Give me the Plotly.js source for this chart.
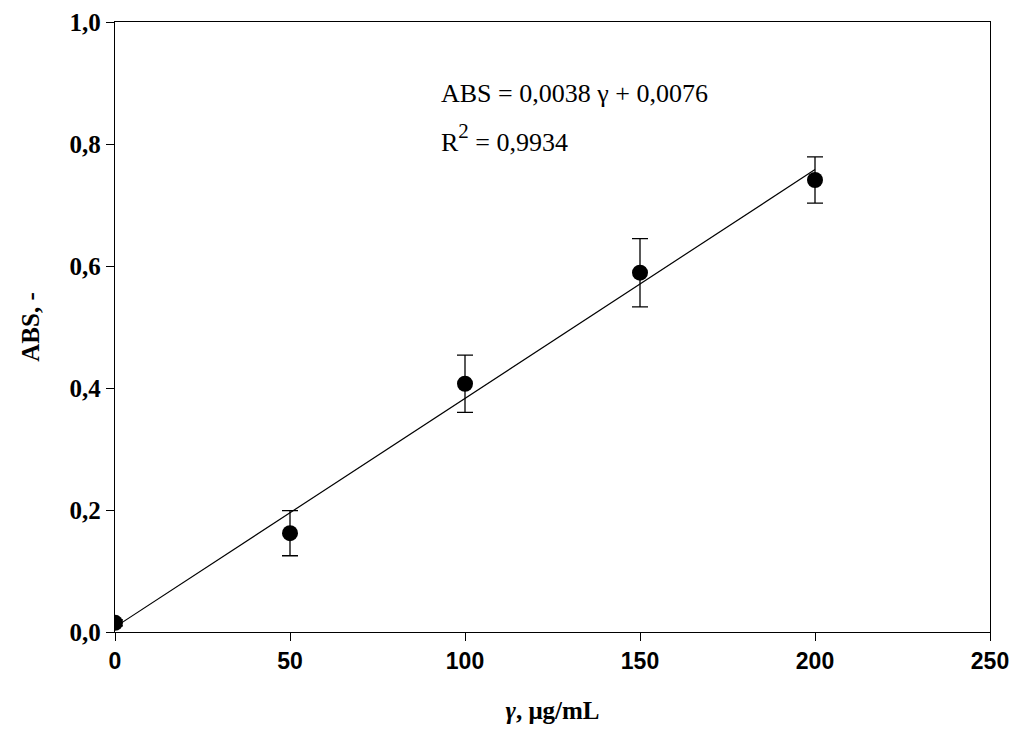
<!DOCTYPE html>
<html>
<head>
<meta charset="utf-8">
<script src="https://cdn.plot.ly/plotly-3.0.1.min.js"></script>
<style>body{margin:0}#chart{width:1018px;height:742px}</style>
</head>
<body>
<div id="chart"></div>
<script>
const conc = [0, 50, 100, 150, 200]
const absVals = [0.015, 0.162, 0.407, 0.589, 0.741]
const absErr = [0.005, 0.037, 0.047, 0.056, 0.038]
const fitX = [0, 200]
const fitY = [0.008, 0.758]

const serif = "Liberation Serif, Times New Roman, serif"

const data = [
    {
        x: fitX, y: fitY, mode: "lines", type: "scatter",
        line: {color: "black", width: 1.2}, hoverinfo: "skip"
    },
    {
        x: conc, y: absVals, mode: "markers", type: "scatter",
        marker: {color: "black", size: 16},
        error_y: {type: "data", array: absErr, visible: true, color: "black", thickness: 1.3, width: 8}
    }
]

const layout = {
    width: 1018, height: 742,
    margin: {l: 115, r: 28, t: 22, b: 110},
    showlegend: false,
    separators: ",.",
    paper_bgcolor: "white", plot_bgcolor: "white",
    xaxis: {
        range: [0, 250], tickvals: [0, 50, 100, 150, 200, 250],
        ticks: "outside", ticklen: 8, tickcolor: "black",
        showgrid: false, zeroline: false,
        showline: true, mirror: true, linecolor: "black", linewidth: 1.3,
        tickfont: {family: "Liberation Sans, Arial, sans-serif", size: 23, color: "black", weight: "bold"},
        title: {text: "<i>γ</i>, μg/mL", standoff: 28, font: {family: serif, size: 25, color: "black", weight: "bold"}}
    },
    yaxis: {
        range: [0, 1], tickvals: [0, 0.2, 0.4, 0.6, 0.8, 1.0], tickformat: ".1f",
        ticks: "outside", ticklen: 8, tickcolor: "black",
        showgrid: false, zeroline: false,
        showline: true, mirror: true, linecolor: "black", linewidth: 1.3,
        tickfont: {family: serif, size: 25, color: "black", weight: "bold"},
        title: {text: "ABS, -", standoff: 22, font: {family: serif, size: 25, color: "black", weight: "bold"}}
    },
    annotations: [
        {xref: "paper", yref: "paper", x: 0.37, y: 0.883, xanchor: "left", yanchor: "middle", showarrow: false,
         text: "ABS = 0,0038 γ + 0,0076", font: {family: serif, size: 26, color: "black"}},
        {xref: "paper", yref: "paper", x: 0.37, y: 0.81, xanchor: "left", yanchor: "middle", showarrow: false,
         text: "R<span style='font-size:30px'><sup>2</sup></span> = 0,9934", font: {family: serif, size: 26, color: "black"}}
    ]
}

Plotly.newPlot("chart", data, layout, {displayModeBar: false})
</script>
</body>
</html>
